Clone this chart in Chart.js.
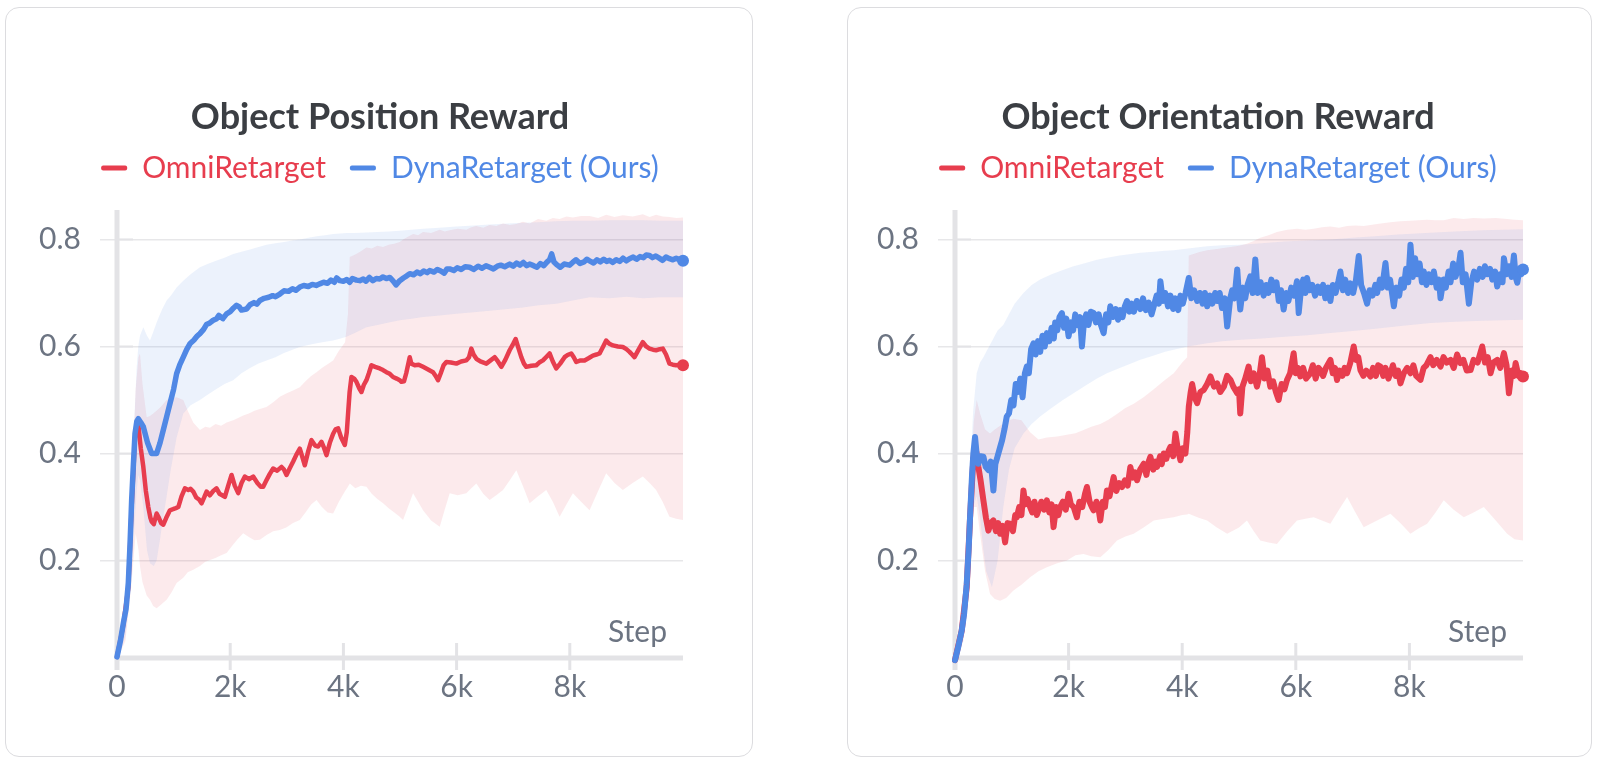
<!DOCTYPE html>
<html><head><meta charset="utf-8">
<script src="https://cdn.jsdelivr.net/npm/chart.js@4.4.1/dist/chart.umd.min.js"></script>
<style>
html,body{margin:0;padding:0;background:#fff;width:1600px;height:765px;overflow:hidden}
.card{position:absolute;top:7px;height:750px;box-sizing:border-box;border:1.5px solid #dcdcdf;border-radius:14px;background:#fff}
canvas{position:absolute;top:0}
</style></head><body>
<div class="card" style="left:5px;width:748px"></div>
<div class="card" style="left:847px;width:745px"></div>
<canvas id="c1" width="760" height="765" style="left:0"></canvas>
<canvas id="c2" width="760" height="765" style="left:840px"></canvas>
<script>
const chartTitles = ['Object Position Reward', 'Object Orientation Reward'];
const seriesNames = ['OmniRetarget', 'DynaRetarget (Ours)'];
const xAxisTitle = 'Step';
const xTickValues = [0, 2000, 4000, 6000, 8000];
const xTickLabels = ['0', '2k', '4k', '6k', '8k'];
const yTickValues = [0.2, 0.4, 0.6, 0.8];
const yTickLabels = ['0.2', '0.4', '0.6', '0.8'];

// ---------- Object Position Reward ----------
const posBlueSteps = [
0,60,112,160,200,230,259,290,318,350,
376,420,465,540,612,700,760,818,880,935,
1000,1053,1110,1171,1230,1288,1360,1420,1465,1530,
1580,1640,1700,1760,1800,1870,1936,2000,2060,2112,
2160,2200,2289,2350,2420,2470,2524,2600,2680,2750,
2800,2877,2950,3030,3100,3160,3230,3300,3380,3450,
3520,3583,3650,3720,3780,3840,3880,3936,4000,4060,
4110,4160,4230,4289,4350,4400,4460,4520,4580,4642,
4700,4760,4819,4880,4930,4995,5060,5120,5172,5240,
5300,5360,5420,5480,5525,5600,5660,5720,5780,5830,
5878,5950,6010,6080,6150,6231,6300,6380,6450,6520,
6584,6650,6720,6780,6850,6937,7000,7060,7120,7180,
7240,7290,7360,7420,7480,7540,7600,7643,7680,7720,
7780,7830,7900,7996,8050,8110,8180,8250,8300,8349,
8420,8480,8540,8600,8650,8702,8760,8820,8880,8940,
9000,9055,9120,9180,9240,9300,9350,9408,9460,9520,
9580,9640,9700,9761,9820,9880,9940,10000];
const posBlueVals = [
0.02,0.05,0.083,0.11,0.158,0.23,0.313,0.38,0.437,0.46,
0.465,0.458,0.45,0.42,0.40,0.40,0.42,0.444,0.47,0.493,
0.52,0.549,0.566,0.58,0.594,0.605,0.612,0.62,0.624,0.632,
0.641,0.644,0.649,0.652,0.658,0.652,0.661,0.665,0.672,0.677,
0.674,0.668,0.670,0.678,0.682,0.679,0.686,0.69,0.692,0.695,
0.693,0.698,0.704,0.703,0.708,0.705,0.711,0.714,0.712,0.716,
0.714,0.717,0.72,0.718,0.724,0.72,0.728,0.723,0.722,0.725,
0.72,0.727,0.724,0.723,0.726,0.722,0.729,0.723,0.727,0.726,
0.73,0.727,0.729,0.722,0.715,0.723,0.728,0.732,0.736,0.734,
0.739,0.736,0.741,0.738,0.742,0.739,0.744,0.741,0.737,0.745,
0.745,0.742,0.747,0.744,0.749,0.748,0.744,0.750,0.746,0.751,
0.748,0.745,0.750,0.752,0.749,0.754,0.750,0.756,0.752,0.757,
0.751,0.754,0.751,0.748,0.755,0.751,0.758,0.762,0.773,0.758,
0.752,0.748,0.754,0.752,0.757,0.762,0.755,0.758,0.763,0.760,
0.756,0.762,0.758,0.763,0.759,0.761,0.757,0.762,0.759,0.765,
0.76,0.764,0.767,0.763,0.768,0.766,0.771,0.770,0.766,0.769,
0.765,0.761,0.767,0.764,0.762,0.765,0.762,0.760];

const posRedSteps = [
0,112,200,259,318,376,420,465,510,553,
590,612,650,700,740,780,818,870,935,990,
1040,1083,1140,1200,1260,1300,1347,1400,1450,1494,
1540,1583,1640,1700,1759,1810,1860,1906,1960,2024,
2080,2142,2200,2259,2330,2406,2480,2540,2583,2640,
2700,2759,2830,2907,2950,2995,3050,3113,3170,3230,
3270,3318,3380,3436,3500,3554,3613,3660,3701,3760,
3819,3860,3907,3960,4025,4060,4083,4110,4142,4190,
4230,4280,4319,4360,4407,4450,4495,4560,4642,4700,
4760,4819,4877,4940,4995,5025,5070,5110,5172,5200,
5260,5330,5407,5480,5584,5630,5672,5720,5770,5819,
5900,5996,6080,6172,6220,6260,6300,6349,6420,6525,
6600,6672,6730,6790,6860,6937,7000,7043,7090,7143,
7190,7231,7320,7408,7460,7525,7580,7643,7700,7761,
7830,7908,7960,8026,8070,8114,8190,8261,8330,8408,
8470,8526,8590,8643,8700,8761,8850,8937,9000,9055,
9100,9143,9220,9290,9350,9408,9470,9525,9590,9643,
9700,9761,9820,9879,9940,10000];
const posRedVals = [
0.02,0.08,0.15,0.30,0.43,0.455,0.41,0.375,0.33,0.30,
0.28,0.273,0.268,0.288,0.28,0.27,0.267,0.28,0.294,0.296,
0.298,0.30,0.32,0.335,0.332,0.334,0.329,0.318,0.314,0.307,
0.318,0.329,0.322,0.33,0.335,0.325,0.322,0.319,0.338,0.36,
0.34,0.326,0.345,0.357,0.352,0.357,0.345,0.338,0.338,0.35,
0.362,0.372,0.368,0.375,0.37,0.36,0.372,0.385,0.398,0.409,
0.395,0.378,0.405,0.425,0.415,0.413,0.422,0.41,0.397,0.42,
0.437,0.445,0.447,0.43,0.416,0.44,0.475,0.515,0.543,0.54,
0.534,0.522,0.515,0.528,0.537,0.55,0.565,0.562,0.559,0.556,
0.552,0.549,0.543,0.54,0.537,0.534,0.535,0.55,0.58,0.568,
0.565,0.566,0.562,0.558,0.552,0.545,0.537,0.55,0.565,0.571,
0.57,0.568,0.572,0.574,0.58,0.596,0.585,0.577,0.572,0.568,
0.574,0.58,0.572,0.562,0.575,0.593,0.605,0.614,0.598,0.58,
0.568,0.562,0.564,0.565,0.57,0.574,0.58,0.587,0.572,0.559,
0.568,0.58,0.584,0.587,0.58,0.571,0.574,0.574,0.578,0.583,
0.585,0.587,0.6,0.611,0.605,0.602,0.6,0.599,0.595,0.59,
0.585,0.58,0.595,0.608,0.6,0.596,0.594,0.593,0.595,0.596,
0.585,0.568,0.566,0.565,0.566,0.565];

const posRedBandSteps = [
0,150,250,330,380,406,450,524,583,640,
700,780,877,960,1053,1171,1250,1347,1465,1560,
1642,1740,1840,1936,2053,2130,2230,2330,2430,2524,
2642,2760,2877,2990,3110,3230,3330,3430,3525,3620,
3720,3819,3920,4030,4080,4113,4210,4310,4407,4500,
4600,4701,4800,4900,4995,5054,5140,5231,5320,5407,
5550,5702,5790,5878,6020,6172,6260,6349,6470,6584,
6700,6820,6940,7055,7170,7290,7440,7584,7700,7820,
7940,8055,8200,8349,8500,8643,8790,8937,9110,9290,
9410,9525,9640,9761,9880,10000];
const posRedBandHi = [
0.025,0.10,0.30,0.52,0.58,0.587,0.53,0.468,0.47,0.475,
0.48,0.488,0.50,0.503,0.505,0.50,0.48,0.458,0.444,0.45,
0.448,0.455,0.452,0.458,0.462,0.466,0.471,0.475,0.48,0.483,
0.487,0.496,0.506,0.512,0.518,0.524,0.535,0.545,0.552,0.56,
0.567,0.574,0.592,0.608,0.66,0.767,0.772,0.778,0.785,0.783,
0.788,0.786,0.79,0.792,0.795,0.80,0.805,0.81,0.808,0.814,
0.812,0.818,0.815,0.817,0.82,0.818,0.823,0.825,0.822,0.827,
0.825,0.83,0.827,0.829,0.833,0.83,0.838,0.835,0.84,0.838,
0.843,0.841,0.844,0.844,0.84,0.846,0.842,0.845,0.843,0.847,
0.842,0.846,0.843,0.842,0.84,0.841];
const posRedBandLo = [
0.015,0.05,0.15,0.25,0.22,0.19,0.16,0.135,0.127,0.115,
0.111,0.118,0.127,0.14,0.158,0.168,0.178,0.183,0.19,0.198,
0.201,0.205,0.21,0.214,0.23,0.24,0.251,0.244,0.238,0.239,
0.248,0.255,0.257,0.262,0.27,0.276,0.29,0.305,0.313,0.30,
0.29,0.288,0.31,0.33,0.338,0.344,0.335,0.34,0.338,0.325,
0.315,0.307,0.298,0.29,0.282,0.276,0.30,0.326,0.31,0.294,
0.275,0.263,0.295,0.326,0.322,0.326,0.335,0.344,0.325,0.313,
0.322,0.332,0.35,0.369,0.34,0.307,0.32,0.332,0.31,0.282,
0.305,0.326,0.31,0.294,0.33,0.363,0.345,0.332,0.345,0.357,
0.345,0.332,0.31,0.282,0.278,0.276];

const posBlueBandSteps = [
0,150,250,300,347,376,406,465,530,583,
650,700,760,800,877,950,1053,1171,1300,1465,
1600,1750,1900,2053,2200,2350,2500,2642,2800,2950,
3100,3230,3380,3530,3680,3819,3950,4054,4200,4407,
4600,4800,4995,5200,5407,5700,5996,6300,6584,6900,
7172,7450,7761,8050,8349,8700,9000,9300,9600,10000];
const posBlueBandHi = [
0.03,0.12,0.30,0.45,0.56,0.60,0.62,0.636,0.62,0.611,
0.63,0.645,0.66,0.67,0.686,0.695,0.71,0.723,0.735,0.748,
0.754,0.76,0.766,0.773,0.777,0.781,0.786,0.79,0.793,0.795,
0.798,0.80,0.803,0.806,0.808,0.81,0.811,0.812,0.812,0.813,
0.814,0.815,0.816,0.818,0.82,0.822,0.824,0.826,0.828,0.83,
0.831,0.832,0.834,0.835,0.835,0.836,0.836,0.836,0.835,0.835];
const posBlueBandLo = [
0.01,0.06,0.16,0.25,0.33,0.36,0.35,0.30,0.22,0.195,
0.19,0.20,0.24,0.27,0.32,0.37,0.43,0.475,0.49,0.50,
0.51,0.52,0.53,0.537,0.55,0.56,0.568,0.574,0.58,0.588,
0.594,0.599,0.603,0.606,0.609,0.611,0.615,0.618,0.625,0.636,
0.64,0.645,0.649,0.652,0.655,0.658,0.661,0.664,0.667,0.67,
0.673,0.677,0.68,0.686,0.692,0.69,0.693,0.69,0.692,0.692];

// ---------- Object Orientation Reward ----------
const oriBlueSteps = [
0,60,118,160,206,240,265,300,323,353,
380,412,450,500,540,588,630,676,710,750,
790,830,870,911,950,990,1030,1070,1110,1150,
1190,1230,1264,1300,1340,1382,1420,1460,1500,1540,
1580,1617,1660,1700,1740,1764,1800,1840,1882,1920,
1960,2000,2040,2080,2117,2160,2200,2235,2270,2310,
2350,2390,2440,2480,2530,2570,2617,2660,2700,2734,
2780,2830,2870,2911,2950,2990,3028,3070,3110,3150,
3200,3263,3310,3360,3410,3460,3499,3550,3590,3616,
3660,3700,3750,3793,3840,3880,3930,3969,4010,4060,
4116,4160,4210,4263,4310,4360,4400,4439,4490,4530,
4580,4616,4660,4700,4750,4792,4846,4880,4920,4969,
5000,5022,5070,5110,5150,5199,5240,5287,5330,5380,
5434,5480,5520,5570,5610,5660,5700,5740,5786,5830,
5870,5920,5970,6021,6051,6090,6130,6170,6198,6240,
6290,6340,6390,6433,6480,6520,6570,6609,6650,6700,
6750,6785,6830,6870,6920,6961,7010,7060,7108,7150,
7200,7255,7300,7350,7400,7432,7480,7520,7579,7620,
7660,7700,7726,7770,7820,7860,7902,7940,7980,8019,
8060,8100,8137,8180,8220,8254,8300,8340,8390,8430,
8480,8520,8548,8600,8640,8690,8724,8770,8810,8860,
8900,8940,8990,9047,9090,9140,9194,9240,9290,9330,
9370,9420,9460,9510,9546,9600,9640,9664,9710,9750,
9800,9840,9870,9899,9940,9970,10000];
const oriBlueVals = [
0.014,0.04,0.069,0.10,0.156,0.22,0.281,0.36,0.40,0.431,
0.40,0.381,0.395,0.394,0.375,0.369,0.385,0.331,0.38,0.395,
0.41,0.425,0.445,0.469,0.475,0.50,0.49,0.53,0.515,0.54,
0.505,0.55,0.5625,0.55,0.595,0.606,0.585,0.61,0.59,0.62,
0.60,0.625,0.61,0.635,0.615,0.645,0.63,0.655,0.6625,0.635,
0.652,0.619,0.645,0.63,0.66,0.64,0.655,0.60,0.645,0.66,
0.64,0.665,0.6625,0.645,0.66,0.64,0.625,0.66,0.645,0.675,
0.655,0.67,0.65,0.668,0.655,0.675,0.685,0.665,0.68,0.665,
0.685,0.67,0.69,0.668,0.682,0.66,0.675,0.695,0.68,0.722,
0.685,0.70,0.675,0.695,0.67,0.69,0.668,0.695,0.68,0.70,
0.728,0.69,0.705,0.685,0.70,0.68,0.70,0.675,0.695,0.68,
0.70,0.685,0.70,0.672,0.69,0.6375,0.69,0.705,0.69,0.744,
0.695,0.669,0.71,0.69,0.715,0.731,0.70,0.7625,0.70,0.72,
0.695,0.715,0.70,0.725,0.705,0.72,0.685,0.705,0.669,0.70,
0.685,0.71,0.695,0.722,0.6625,0.705,0.725,0.70,0.728,0.705,
0.715,0.695,0.712,0.70,0.715,0.69,0.71,0.685,0.715,0.70,
0.722,0.74,0.705,0.725,0.70,0.718,0.70,0.725,0.769,0.715,
0.70,0.68,0.705,0.695,0.715,0.70,0.725,0.71,0.756,0.71,
0.725,0.695,0.675,0.71,0.695,0.725,0.71,0.745,0.72,0.79,
0.73,0.765,0.735,0.755,0.72,0.74,0.715,0.735,0.72,0.74,
0.71,0.725,0.69,0.725,0.71,0.74,0.72,0.755,0.73,0.745,
0.775,0.72,0.735,0.68,0.72,0.74,0.725,0.745,0.73,0.75,
0.735,0.745,0.725,0.74,0.712,0.735,0.72,0.765,0.735,0.75,
0.73,0.77,0.73,0.719,0.745,0.735,0.744];

const oriRedSteps = [
0,118,206,265,323,353,380,412,450,500,
545,588,630,676,720,760,794,840,882,925,
970,1020,1060,1088,1130,1170,1205,1240,1280,1323,
1360,1400,1440,1470,1520,1570,1617,1660,1700,1735,
1780,1820,1852,1900,1950,2000,2040,2090,2146,2190,
2240,2290,2323,2370,2410,2440,2490,2530,2558,2600,
2640,2675,2720,2760,2793,2840,2890,2940,2990,3040,
3087,3130,3170,3205,3260,3322,3370,3410,3440,3490,
3530,3557,3610,3640,3675,3720,3760,3793,3840,3881,
3920,3969,4010,4057,4090,4116,4150,4175,4220,4263,
4320,4381,4440,4498,4560,4616,4670,4734,4790,4851,
4900,4969,5000,5022,5060,5110,5169,5210,5260,5316,
5360,5404,5450,5500,5551,5600,5650,5698,5750,5800,
5845,5900,5962,6000,6040,6080,6130,6180,6256,6300,
6350,6400,6433,6480,6530,6609,6650,6690,6726,6770,
6820,6860,6903,6960,7020,7060,7100,7138,7190,7240,
7314,7360,7410,7450,7490,7540,7580,7630,7667,7710,
7760,7800,7843,7900,7960,8019,8070,8120,8195,8250,
8300,8372,8420,8480,8548,8600,8660,8724,8780,8840,
8900,8950,9010,9077,9130,9200,9282,9330,9380,9429,
9480,9546,9600,9664,9710,9752,9800,9840,9870,9920,
9960,10000];
const oriRedVals = [
0.014,0.069,0.15,0.28,0.39,0.4125,0.40,0.375,0.35,0.3125,
0.28,0.256,0.27,0.275,0.255,0.27,0.25,0.265,0.234,0.27,
0.269,0.255,0.285,0.281,0.30,0.285,0.331,0.305,0.315,0.30,
0.29,0.31,0.285,0.294,0.31,0.295,0.3125,0.29,0.305,0.2625,
0.30,0.285,0.30,0.31,0.295,0.325,0.305,0.30,0.281,0.31,
0.30,0.325,0.3375,0.31,0.30,0.294,0.31,0.295,0.275,0.31,
0.30,0.331,0.32,0.34,0.356,0.33,0.345,0.3375,0.35,0.34,
0.375,0.355,0.365,0.35,0.37,0.381,0.36,0.385,0.394,0.37,
0.385,0.375,0.395,0.38,0.40,0.39,0.405,0.4125,0.395,0.4375,
0.41,0.3875,0.41,0.40,0.44,0.4875,0.515,0.53,0.505,0.494,
0.515,0.519,0.53,0.544,0.525,0.531,0.515,0.525,0.545,0.5375,
0.525,0.5125,0.52,0.475,0.525,0.54,0.5625,0.535,0.55,0.525,
0.545,0.58,0.54,0.555,0.525,0.535,0.515,0.50,0.53,0.52,
0.5375,0.55,0.5875,0.55,0.56,0.544,0.56,0.54,0.55,0.565,
0.54,0.56,0.556,0.545,0.56,0.575,0.55,0.56,0.5375,0.555,
0.545,0.56,0.55,0.57,0.60,0.575,0.58,0.556,0.545,0.555,
0.544,0.56,0.545,0.565,0.5625,0.545,0.56,0.54,0.55,0.565,
0.545,0.555,0.531,0.55,0.56,0.55,0.565,0.545,0.5375,0.56,
0.565,0.58,0.565,0.575,0.5625,0.58,0.57,0.575,0.56,0.585,
0.569,0.575,0.555,0.556,0.575,0.57,0.60,0.57,0.58,0.55,
0.57,0.575,0.56,0.5875,0.565,0.5125,0.555,0.545,0.569,0.545,
0.55,0.544];

const oriRedBandSteps = [
0,150,250,330,382,441,530,617,700,794,
900,1029,1170,1323,1470,1617,1800,1970,2120,2264,
2400,2558,2700,2852,3000,3146,3320,3499,3680,3851,
4000,4087,4116,4290,4439,4610,4792,5000,5140,5260,
5375,5520,5668,5850,6021,6170,6315,6460,6608,6760,
6903,7050,7196,7430,7666,7840,8018,8160,8312,8460,
8605,8780,8958,9130,9310,9520,9721,9850,10000];
const oriRedBandHi = [
0.02,0.10,0.30,0.46,0.50,0.475,0.445,0.4375,0.445,0.452,
0.46,0.465,0.462,0.44,0.426,0.43,0.432,0.435,0.438,0.444,
0.45,0.455,0.463,0.474,0.485,0.493,0.505,0.52,0.536,0.55,
0.57,0.58,0.77,0.776,0.78,0.782,0.785,0.788,0.792,0.797,
0.803,0.808,0.814,0.818,0.82,0.818,0.82,0.823,0.824,0.822,
0.825,0.826,0.825,0.829,0.832,0.834,0.835,0.836,0.837,0.836,
0.836,0.84,0.838,0.84,0.839,0.84,0.838,0.837,0.836];
const oriRedBandLo = [
0.01,0.05,0.15,0.30,0.30,0.25,0.18,0.1375,0.128,0.125,
0.13,0.144,0.155,0.169,0.18,0.1875,0.195,0.20,0.21,0.2125,
0.208,0.206,0.22,0.2375,0.245,0.25,0.262,0.275,0.278,0.281,
0.285,0.286,0.2875,0.28,0.275,0.262,0.25,0.262,0.275,0.255,
0.2375,0.234,0.231,0.255,0.275,0.278,0.281,0.275,0.269,0.295,
0.319,0.29,0.2625,0.275,0.2875,0.27,0.25,0.26,0.269,0.29,
0.3125,0.295,0.281,0.29,0.30,0.275,0.25,0.24,0.2375];

const oriBlueBandSteps = [
0,150,250,320,382,441,500,550,650,750,
850,950,1050,1205,1350,1499,1700,1900,2087,2300,
2500,2675,2900,3100,3263,3500,3700,3851,4100,4439,
4700,5027,5400,5800,6200,6608,7000,7400,7800,8372,
8800,9300,10000];
const oriBlueBandHi = [
0.03,0.12,0.33,0.48,0.55,0.57,0.58,0.59,0.61,0.63,
0.64,0.66,0.68,0.70,0.715,0.725,0.735,0.743,0.75,0.756,
0.762,0.766,0.77,0.773,0.775,0.777,0.779,0.78,0.783,0.7875,
0.789,0.79,0.793,0.796,0.798,0.80,0.803,0.806,0.809,0.8125,
0.815,0.817,0.819];
const oriBlueBandLo = [
0.005,0.07,0.20,0.30,0.32,0.28,0.22,0.18,0.15,0.20,
0.30,0.37,0.41,0.4375,0.455,0.469,0.485,0.50,0.5125,0.527,
0.54,0.55,0.56,0.568,0.575,0.583,0.59,0.594,0.60,0.606,
0.61,0.6125,0.615,0.618,0.621,0.625,0.629,0.633,0.638,0.644,
0.646,0.648,0.65];

// ---------- styling ----------
const RED = 'rgb(231,61,78)';
const BLUE = 'rgb(80,136,229)';
const RED_FILL = 'rgba(231,61,78,0.11)';
const BLUE_FILL = 'rgba(80,136,229,0.11)';
const TICK_COLOR = 'rgb(108,116,130)';
const AXIS_COLOR = '#e3e3e6';
const GRID_COLOR = '#e7e7e9';
const FONT = 'Lato, "Noto Sans", sans-serif';

function xy(xs, ys) {
  const n = Math.min(xs.length, ys.length);
  const out = [];
  for (let i = 0; i < n; i++) out.push({ x: xs[i], y: ys[i] });
  return out;
}

const decor = {
  id: 'decor',
  beforeDatasetsDraw(chart) {
    const { ctx, chartArea: a, scales: { x, y } } = chart;
    ctx.save();
    ctx.strokeStyle = AXIS_COLOR;
    ctx.lineWidth = 2;
    yTickValues.forEach(v => {
      const py = y.getPixelForValue(v);
      ctx.beginPath(); ctx.moveTo(a.left, py); ctx.lineTo(a.left + 16, py); ctx.stroke();
    });
    ctx.lineWidth = 3;
    xTickValues.forEach(v => {
      const px = x.getPixelForValue(v);
      ctx.beginPath(); ctx.moveTo(px, a.bottom - 15); ctx.lineTo(px, a.bottom + 12); ctx.stroke();
    });
    ctx.lineWidth = 5;
    ctx.beginPath(); ctx.moveTo(a.left, a.top); ctx.lineTo(a.left, a.bottom + 12); ctx.stroke();
    ctx.beginPath(); ctx.moveTo(a.left, a.bottom); ctx.lineTo(a.right, a.bottom); ctx.stroke();
    ctx.fillStyle = TICK_COLOR;
    ctx.font = '30px ' + FONT;
    ctx.textAlign = 'right';
    ctx.textBaseline = 'middle';
    ctx.fillText(xAxisTitle, a.right - 16, a.bottom - 26);
    ctx.restore();
  }
};

function makeChart(id, title, s) {
  const lastDot = c => (c.dataIndex === c.dataset.data.length - 1 ? 6 : 0);
  const band = (data, fill, color) => ({
    data, borderWidth: 0, borderColor: 'rgba(0,0,0,0)', pointRadius: 0,
    fill, backgroundColor: color
  });
  new Chart(document.getElementById(id), {
    type: 'line',
    data: {
      datasets: [
        { label: seriesNames[1], data: xy(s.blueSteps, s.blueVals), borderColor: BLUE, backgroundColor: BLUE,
          borderWidth: s.blueWidth, pointRadius: lastDot, pointBorderWidth: 0, pointBackgroundColor: BLUE, fill: false, clip: false },
        { label: seriesNames[0], data: xy(s.redSteps, s.redVals), borderColor: RED, backgroundColor: RED,
          borderWidth: s.redWidth, pointRadius: lastDot, pointBorderWidth: 0, pointBackgroundColor: RED, fill: false, clip: false },
        band(xy(s.blueBandSteps, s.blueBandHi), '+1', BLUE_FILL),
        band(xy(s.blueBandSteps, s.blueBandLo), false, BLUE_FILL),
        band(xy(s.redBandSteps, s.redBandHi), '+1', RED_FILL),
        band(xy(s.redBandSteps, s.redBandLo), false, RED_FILL)
      ]
    },
    options: {
      responsive: false, animation: false, events: [],
      layout: { padding: { left: s.padLeft, right: 77, top: 0, bottom: 0 } },
      elements: { line: { tension: 0, borderJoinStyle: 'round', borderCapStyle: 'round' } },
      plugins: {
        title: { display: true, text: title, color: '#3b3e43',
          font: { family: FONT, size: 36, weight: 'bold', lineHeight: 0.5 }, padding: { top: 108, bottom: 3 } },
        subtitle: { display: true, text: ' ', font: { size: 17, lineHeight: 1 }, padding: 0, weight: 500 },
        legend: {
          display: true,
          labels: {
            boxWidth: 26, boxHeight: 5, padding: 24, useBorderRadius: true, borderRadius: 2,
            font: { family: FONT, size: 30 },
            generateLabels: () => [
              { text: seriesNames[0], fillStyle: RED, strokeStyle: RED, lineWidth: 0, fontColor: RED, datasetIndex: 1, borderRadius: 2 },
              { text: seriesNames[1], fillStyle: BLUE, strokeStyle: BLUE, lineWidth: 0, fontColor: BLUE, datasetIndex: 0, borderRadius: 2 }
            ]
          }
        },
        tooltip: { enabled: false }
      },
      scales: {
        x: {
          type: 'linear', min: 0, max: 10000,
          grid: { display: false }, border: { display: false },
          afterBuildTicks: ax => { ax.ticks = xTickValues.map(v => ({ value: v })); },
          afterFit: sc => { sc.height = 107; },
          ticks: { padding: 3, color: TICK_COLOR, font: { family: FONT, size: 30 }, maxRotation: 0, autoSkip: false,
            callback: (v, i) => xTickLabels[i] }
        },
        y: {
          type: 'linear', min: 0.018, max: 0.855,
          grid: { color: GRID_COLOR, lineWidth: 1.5, drawTicks: true, tickLength: 17 }, border: { display: false },
          afterBuildTicks: ax => { ax.ticks = yTickValues.map(v => ({ value: v })); },
          afterFit: sc => { sc.width = s.yAxisWidth; },
          ticks: { mirror: true, crossAlign: 'near', padding: -78, color: TICK_COLOR, font: { family: FONT, size: 30 },
            callback: (v, i) => yTickLabels[i] }
        }
      }
    },
    plugins: [decor]
  });
}

makeChart('c1', chartTitles[0], {
  blueSteps: posBlueSteps, blueVals: posBlueVals, redSteps: posRedSteps, redVals: posRedVals,
  blueBandSteps: posBlueBandSteps, blueBandHi: posBlueBandHi, blueBandLo: posBlueBandLo,
  redBandSteps: posRedBandSteps, redBandHi: posRedBandHi, redBandLo: posRedBandLo,
  blueWidth: 5.5, redWidth: 4.5, padLeft: 77, yAxisWidth: 40
});
makeChart('c2', chartTitles[1], {
  blueSteps: oriBlueSteps, blueVals: oriBlueVals, redSteps: oriRedSteps, redVals: oriRedVals,
  blueBandSteps: oriBlueBandSteps, blueBandHi: oriBlueBandHi, blueBandLo: oriBlueBandLo,
  redBandSteps: oriRedBandSteps, redBandHi: oriRedBandHi, redBandLo: oriRedBandLo,
  blueWidth: 6, redWidth: 6, padLeft: 73, yAxisWidth: 42
});
</script>
</body></html>
